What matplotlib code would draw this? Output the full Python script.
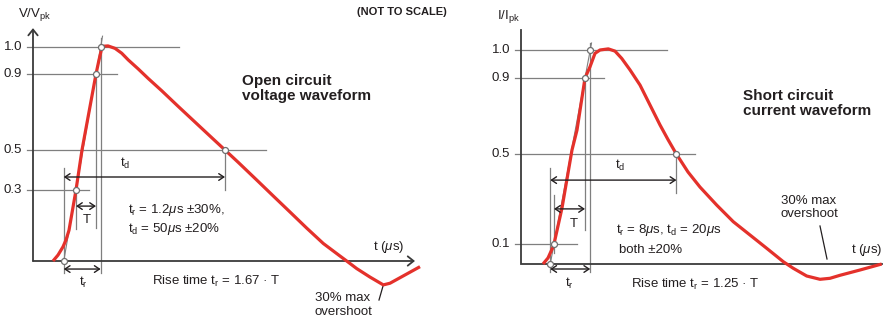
import numpy as np
import matplotlib.pyplot as plt

plt.rcParams['font.family'] = ['Liberation Sans', 'DejaVu Sans']
plt.rcParams['mathtext.fontset'] = 'custom'
plt.rcParams['mathtext.rm'] = 'Liberation Sans'
plt.rcParams['mathtext.it'] = 'Liberation Sans:italic'
plt.rcParams['mathtext.bf'] = 'Liberation Sans:bold'

RED = '#e4312b'
GREY = '#7f7f7f'
AXIS = '#3a3a3a'
INK = '#231f20'

# open circuit voltage waveform (t in drawing units, not to scale; v = V/Vpk)
oc_t = [20, 25, 30, 33, 36, 43, 49, 56, 63, 66, 69, 71, 75, 82, 88.7, 95.3, 105.3, 115.3, 128.7, 145.3,
        162, 178.7, 192, 205.3, 223.7, 240.3, 257, 273.7, 290.3, 307, 313.7, 323.7, 337, 350.3, 357, 387]
oc_v = [0, 0.025, 0.06, 0.089, 0.13, 0.3, 0.5, 0.7, 0.9, 0.952, 1.0, 1.003, 1.004, 0.995, 0.977, 0.952,
        0.9185, 0.876, 0.812, 0.729, 0.647, 0.565, 0.5, 0.438, 0.35, 0.2746, 0.207, 0.139, 0.074, 0.021,
        0, -0.032, -0.068, -0.101, -0.094, -0.024]
oc_levels = [0.3, 0.5, 0.9, 1.0]

# short circuit current waveform (i = I/Ipk)
sc_t = [22, 27, 32, 33, 41, 51, 56, 64, 69, 74, 79, 87.3, 94, 100.7, 109, 119, 129, 139, 147, 155,
        167, 179, 195.7, 212.3, 229, 245.7, 262.3, 272.3, 285.7, 299, 309, 319, 339, 360.7]
sc_i = [0, 0.03, 0.085, 0.1, 0.26, 0.521, 0.626, 0.9, 0.94, 0.988, 1.0, 1.004, 0.996, 0.970, 0.929,
        0.863, 0.758, 0.653, 0.576, 0.503, 0.42, 0.353, 0.273, 0.199, 0.14, 0.0785, 0.0115, -0.0215,
        -0.06, -0.0765, -0.0715, -0.0565, -0.03, 0]
sc_levels = [0.1, 0.5, 0.9, 1.0]

# "not to scale": where each level sits on the drawing
oc_anchor = [-2, 0, 0.3, 0.5, 0.9, 1.0, 3]
oc_height = [-473, 0, 71, 111, 187, 214, 754]
sc_anchor = [-2, 0, 0.1, 0.5, 0.9, 1.0, 3]
sc_height = [-400, 0, 20, 110, 186, 214, 774]


def dim_arrow(ax, x0, x1, y):
    ax.annotate('', xy=(x1, y), xytext=(x0, y),
                arrowprops=dict(arrowstyle='<->,head_length=0.3,head_width=0.2', lw=1.0, color=INK,
                                shrinkA=0, shrinkB=0, mutation_scale=12))


def panel(ax, t, v, levels, anchors, heights, lay):
    fwd = lambda x: np.interp(x, anchors, heights)
    inv = lambda h: np.interp(h, heights, anchors)
    ax.set_yscale('function', functions=(fwd, inv))
    ax.set_xlim(lay['xlim'])
    ax.set_ylim(inv(lay['hlim'][0]), inv(lay['hlim'][1]))
    ax.axis('off')

    t = np.asarray(t, float)
    v = np.asarray(v, float)
    k = int(np.argmax(v))
    m = int(np.argmin(v))
    lo = levels[0]
    t_lo = np.interp(lo, v[:k + 1], t[:k + 1])
    t_90 = np.interp(0.9, v[:k + 1], t[:k + 1])
    h_lo, h_90 = fwd(lo), fwd(0.9)
    slope = (t_90 - t_lo) / (h_90 - h_lo)
    t_0 = t_lo - h_lo * slope
    t_100 = t_lo + (fwd(1.0) - h_lo) * slope
    t_top = t_lo + (fwd(lay['front_top']) - h_lo) * slope
    t_50 = np.interp(0.5, v[k:m + 1][::-1], t[k:m + 1][::-1])

    # level lines and labels
    for lvl, end in zip(levels, lay['level_end']):
        ax.plot([-6, end], [lvl, lvl], color=GREY, lw=0.9, zorder=1)
        ax.text(-11, lvl, f'{lvl:.1f}', ha='right', va='center', fontsize=9.5, color=INK)

    # axes
    if lay['arrows']:
        ax.annotate('', xy=(0, lay['ytop']), xytext=(0, 0),
                    arrowprops=dict(arrowstyle='->,head_length=0.35,head_width=0.28', lw=1.3,
                                    color=AXIS, shrinkA=0, shrinkB=0, mutation_scale=12))
        ax.annotate('', xy=(lay['xend'], 0), xytext=(0, 0),
                    arrowprops=dict(arrowstyle='->,head_length=0.35,head_width=0.28', lw=1.3,
                                    color=AXIS, shrinkA=0, shrinkB=0, mutation_scale=12))
    else:
        ax.plot([0, 0, lay['xend']], [lay['ytop'], 0, 0], color=AXIS, lw=1.3,
                solid_joinstyle='miter', zorder=2)

    # vertical guides
    guide_t = [t_0, t_lo, t_90, t_100, t_50]
    for gx, (ya, yb) in zip(guide_t, lay['guides']):
        ax.plot([gx, gx], [ya, yb], color=GREY, lw=0.9, zorder=1)

    # virtual front
    ax.plot([t_0, t_top], [0, lay['front_top']], color=GREY, lw=0.8, zorder=2)

    ax.plot(t, v, color=RED, lw=2.3, solid_joinstyle='round', solid_capstyle='butt', zorder=3)

    ax.plot(guide_t, [0, lo, 0.9, 1.0, 0.5], 'o', ms=4.3, mfc='white', mec='#6f6f6f', mew=0.9, zorder=5)

    dim_arrow(ax, t_0, t_50, lay['td_y'])
    dim_arrow(ax, t_lo, t_90, lay['T_y'])
    dim_arrow(ax, t_0, t_100, lay['tr_y'])
    ax.text(*lay['td_lbl'], 't$_\\mathregular{d}$', ha='center', va='center', fontsize=9.5, color=INK)
    ax.text(*lay['T_lbl'], 'T', ha='center', va='center', fontsize=9.5, color=INK)
    ax.text(*lay['tr_lbl'], 't$_\\mathregular{r}$', ha='center', va='center', fontsize=9.5, color=INK)

    for (x, y, s, ha, fw) in lay['texts']:
        ax.text(x, y, s, ha=ha, va='center', fontsize=11 if fw == 'bold' else 9.5,
                fontweight=fw, color=INK, linespacing=1.15)

    (x0, y0), (x1, y1) = lay['leader']
    ax.plot([x0, x1], [y0, y1], color=INK, lw=0.9)


oc_layout = dict(
    xlim=(-33, 407), hlim=(-60, 261), arrows=True, ytop=1.07, xend=382, front_top=1.04,
    level_end=[56, 233, 84, 146],
    guides=[(0.41, -0.05), (0.3, 0.135), (0.9, 0.14), (1.033, -0.05), (0.5, 0.3)],
    td_y=0.365, T_y=0.232, tr_y=-0.034,
    td_lbl=(92, 0.435), T_lbl=(54, 0.173), tr_lbl=(50, -0.089),
    texts=[(2, 1.12, 'V/V$_\\mathregular{pk}$', 'center', 'normal'),
           (209, 0.824, 'Open circuit\nvoltage waveform', 'left', 'bold'),
           (95, 0.215, 't$_\\mathregular{r}$ = 1.2$\\mathit{\\mu}$s ±30%,', 'left', 'normal'),
           (95, 0.135, 't$_\\mathregular{d}$ = 50$\\mathit{\\mu}$s ±20%', 'left', 'normal'),
           (119, -0.085, 'Rise time t$_\\mathregular{r}$ = 1.67 · T', 'left', 'normal'),
           (282, -0.186, '30% max\novershoot', 'left', 'normal'),
           (340, 0.059, 't ($\\mathit{\\mu}$s)', 'left', 'normal')],
    leader=((350, -0.106), (346, -0.165)),
)

sc_layout = dict(
    xlim=(-74, 366), hlim=(-57, 264), arrows=False, ytop=1.071, xend=361, front_top=1.025,
    level_end=[56, 174, 83, 146],
    guides=[(0.438, -0.04), (0.318, 0.055), (0.9, 0.162), (1.025, -0.04), (0.5, 0.327)],
    td_y=0.384, T_y=0.256, tr_y=-0.025,
    td_lbl=(99, 0.447), T_lbl=(53, 0.189), tr_lbl=(48, -0.095),
    texts=[(-12, 1.121, 'I/I$_\\mathregular{pk}$', 'center', 'normal'),
           (222, 0.766, 'Short circuit\ncurrent waveform', 'left', 'bold'),
           (95, 0.162, 't$_\\mathregular{r}$ = 8$\\mathit{\\mu}$s, t$_\\mathregular{d}$ = 20$\\mathit{\\mu}$s',
            'left', 'normal'),
           (98, 0.07, 'both ±20%', 'left', 'normal'),
           (110, -0.1, 'Rise time t$_\\mathregular{r}$ = 1.25 · T', 'left', 'normal'),
           (260, 0.262, '30% max\novershoot', 'left', 'normal'),
           (361, 0.07, 't ($\\mathit{\\mu}$s)', 'right', 'normal')],
    leader=((299, 0.18), (306, 0.025)),
)

fig = plt.figure(figsize=(8.87, 3.21), dpi=100)
ax1 = fig.add_axes([0, 0, 440 / 887, 1])
ax2 = fig.add_axes([447 / 887, 0, 440 / 887, 1])
panel(ax1, oc_t, oc_v, oc_levels, oc_anchor, oc_height, oc_layout)
panel(ax2, sc_t, sc_i, sc_levels, sc_anchor, sc_height, sc_layout)

fig.text(402 / 887, 1 - 12 / 321, '(NOT TO SCALE)', ha='center', va='center', fontsize=8,
         fontweight='bold', color=INK)

fig.savefig('out.png', dpi=100)
